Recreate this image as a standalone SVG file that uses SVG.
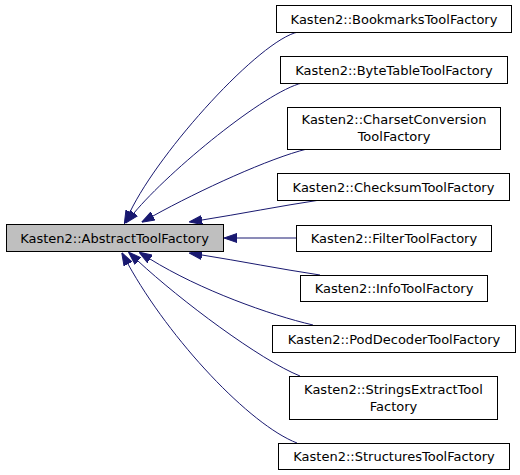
<svg xmlns="http://www.w3.org/2000/svg" width="520" height="475" viewBox="0 0 520 475">
<style>
.box{fill:#ffffff;stroke:#000000;stroke-width:1}
.base{fill:#bfbfbf;stroke:#000000;stroke-width:1}
text{font-family:"DejaVu Sans",sans-serif;font-size:13px;fill:#000000;text-anchor:middle}
.edge{fill:none;stroke:#191970;stroke-width:1;marker-end:url(#ah)}
</style>
<defs>
<marker id="ah" markerUnits="userSpaceOnUse" markerWidth="13" markerHeight="10" viewBox="0 0 13 10" refX="0" refY="5" orient="auto">
<path d="M0,0.5 L13,5 L0,9.5 z" fill="#191970" stroke="#191970" stroke-width="1"/>
</marker>
</defs>
<rect width="520" height="475" fill="#ffffff"/>
<g id="connectors">
<path class="edge" d="M298,32 C260,40 160,150 130,212"/>
<path class="edge" d="M302,83 C265,92 170,170 134,213"/>
<path class="edge" d="M307,149 C270,158 200,190 153,216"/>
<path class="edge" d="M320,200 C280,206 240,214 202,220"/>
<path class="edge" d="M296,238 L237,238"/>
<path class="edge" d="M320,275 C280,269 240,261 202,255"/>
<path class="edge" d="M313,325 C270,315 200,290 150,259"/>
<path class="edge" d="M300,376 C260,360 180,300 138,261"/>
<path class="edge" d="M297,443 C250,425 170,340 128,264"/>
</g>
<g id="abstract"><rect class="base" x="6.5" y="224.5" width="217" height="27"/><text x="114.5" y="242.5">Kasten2::AbstractToolFactory</text></g>
<g id="bookmarks"><rect class="box" x="276.5" y="5.5" width="235" height="27"/><text x="394" y="23.5">Kasten2::BookmarksToolFactory</text></g>
<g id="bytetable"><rect class="box" x="280.5" y="56.5" width="227" height="27"/><text x="394" y="74.5">Kasten2::ByteTableToolFactory</text></g>
<g id="charset"><rect class="box" x="287.5" y="107.5" width="213" height="42"/><text x="394" y="124">Kasten2::CharsetConversion</text><text x="394" y="141">ToolFactory</text></g>
<g id="checksum"><rect class="box" x="277.5" y="173.5" width="232" height="27"/><text x="393.5" y="191.5">Kasten2::ChecksumToolFactory</text></g>
<g id="filter"><rect class="box" x="296.5" y="225.5" width="195" height="26"/><text x="394" y="243">Kasten2::FilterToolFactory</text></g>
<g id="info"><rect class="box" x="300.5" y="275.5" width="187" height="26"/><text x="394" y="293">Kasten2::InfoToolFactory</text></g>
<g id="poddecoder"><rect class="box" x="272.5" y="325.5" width="243" height="27"/><text x="394" y="343.5">Kasten2::PodDecoderToolFactory</text></g>
<g id="stringsextract"><rect class="box" x="289.5" y="376.5" width="208" height="43"/><text x="393.5" y="394">Kasten2::StringsExtractTool</text><text x="393.5" y="410.5">Factory</text></g>
<g id="structures"><rect class="box" x="278.5" y="443.5" width="231" height="26"/><text x="394" y="461">Kasten2::StructuresToolFactory</text></g>
</svg>
